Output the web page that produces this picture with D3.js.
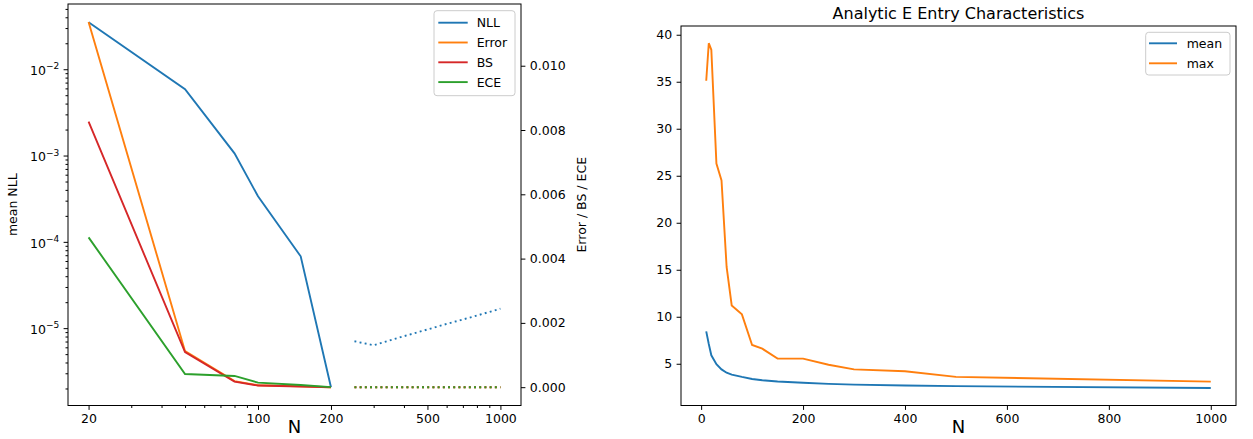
<!doctype html>
<html lang="en">
<head>
<meta charset="utf-8">
<title>Metrics vs N / Analytic E Entry Characteristics</title>
<script src="https://d3js.org/d3.v7.min.js"></script>
<style>
  body { margin: 0; background: #fff; }
  svg { display: block; font-family: "DejaVu Sans", sans-serif; }
  .axis path { display: none; }
  .axis line { stroke: #000; stroke-width: 1; }
  .axis text { fill: #000; font-size: 12.5px; font-family: "DejaVu Sans", sans-serif; }
  .spine { fill: none; stroke: #000; stroke-width: 1; }
  .legend-box { fill: #fff; fill-opacity: 0.8; stroke: #ccc; stroke-width: 1; }
  .legend text { font-size: 12.5px; fill: #000; }
</style>
</head>
<body>
<svg id="chart" width="1253" height="439"></svg>
<script>
// ---- left panel: NLL (log, left axis) + Error / BS / ECE (linear, right axis)
var nSolid = [20, 50, 80, 100, 150, 200];
var nllSolid = [0.035, 0.00586, 0.00106, 0.000337, 0.000068, 0.00000207];
var errSolid = [0.01136, 0.00112, 0.00019, 0.00006, 0.00003, 0];
var bsSolid  = [0.00826, 0.00109, 0.000174, 0.00005, 0.00002, 0];
var eceSolid = [0.00466, 0.00041, 0.00035, 0.00014, 0.00007, 0];

var nDotted = [250, 300, 400, 500, 600, 700, 800, 900, 1000];
var nllDotted = [7.05e-6, 6.34e-6, 8.07e-6, 9.65e-6, 1.12e-5, 1.26e-5, 1.40e-5, 1.54e-5, 1.68e-5];
var errDotted = [0, 0, 0, 0, 0, 0, 0, 0, 0];
var bsDotted  = [0, 0, 0, 0, 0, 0, 0, 0, 0];
var eceDotted = [0, 0, 0, 0, 0, 0, 0, 0, 0];

var xTicksLeft = [20, 100, 200, 500, 1000];
var xMinorLeft = [30, 40, 50, 60, 70, 80, 90, 300, 400, 600, 700, 800, 900];
var yTicksNll = [1e-5, 1e-4, 1e-3, 1e-2];
var yTicksRight = [0, 0.002, 0.004, 0.006, 0.008, 0.010];

// ---- right panel: analytic E entry characteristics
var nE = [10, 15, 20, 30, 40, 50, 60, 80, 100, 120, 150, 200, 250, 300, 400, 500, 1000];
var meanE = [8.45, 7.1, 5.9, 4.95, 4.4, 4.05, 3.85, 3.6, 3.38, 3.25, 3.12, 2.98, 2.86, 2.78, 2.68, 2.62, 2.42];
var maxE = [35.1, 39.1, 38.4, 26.3, 24.5, 15.3, 11.2, 10.25, 7.0, 6.6, 5.55, 5.55, 4.9, 4.4, 4.2, 3.6, 3.1];
var xTicksE = [0, 200, 400, 600, 800, 1000];
var yTicksE = [5, 10, 15, 20, 25, 30, 35, 40];

var C = { blue: "#1f77b4", orange: "#ff7f0e", green: "#2ca02c", red: "#d62728" };
var svg = d3.select("#chart");

// ================= left panel =================
var L = { left: 68, right: 521, top: 4, bottom: 405.5 };

var xL = d3.scaleLog().domain([16.45, 1216]).range([L.left, L.right]);
var yNll = d3.scaleLog().domain([1.27e-6, 0.057]).range([L.bottom, L.top]);
var yR = d3.scaleLinear().domain([-0.00057, 0.01192]).range([L.bottom, L.top]);

var gl = svg.append("g");

// x axis (major + minor)
gl.append("g").attr("class", "axis")
  .attr("transform", "translate(0," + L.bottom + ")")
  .call(d3.axisBottom(xL).tickValues(xTicksLeft).tickFormat(d3.format("d"))
    .tickSize(4.4).tickPadding(4.4).tickSizeOuter(0));
gl.append("g").attr("class", "axis")
  .attr("transform", "translate(0," + L.bottom + ")")
  .call(d3.axisBottom(xL).tickValues(xMinorLeft).tickFormat("").tickSize(2.5).tickSizeOuter(0));

// left log axis
var minorNll = [];
for (var k = -7; k <= -1; k++) {
  for (var m = 2; m <= 9; m++) {
    var v = m * Math.pow(10, k);
    if (v > yNll.domain()[0] && v < yNll.domain()[1]) minorNll.push(v);
  }
}
var yAxL = gl.append("g").attr("class", "axis")
  .attr("transform", "translate(" + L.left + ",0)")
  .call(d3.axisLeft(yNll).tickValues(yTicksNll).tickFormat(function(d) { return ""; })
    .tickSize(4.4).tickPadding(4.4).tickSizeOuter(0));
yAxL.selectAll(".tick text").each(function(d) {
  var t = d3.select(this).attr("dy", "0.42em");
  t.append("tspan").text("10");
  t.append("tspan").attr("dy", -5.5).style("font-size", "9px")
    .text("\u2212" + Math.round(-Math.log10(d)));
});
gl.append("g").attr("class", "axis")
  .attr("transform", "translate(" + L.left + ",0)")
  .call(d3.axisLeft(yNll).tickValues(minorNll).tickFormat("").tickSize(2.5).tickSizeOuter(0));

// right linear axis
gl.append("g").attr("class", "axis")
  .attr("transform", "translate(" + L.right + ",0)")
  .call(d3.axisRight(yR).tickValues(yTicksRight).tickFormat(d3.format(".3f"))
    .tickSize(4.4).tickPadding(4.4).tickSizeOuter(0));

// lines
function lineOn(x, y) {
  return d3.line().x(function(d) { return x(d[0]); }).y(function(d) { return y(d[1]); });
}
var nllLine = lineOn(xL, yNll);
var rLine = lineOn(xL, yR);

gl.append("path").attr("d", nllLine(d3.zip(nSolid, nllSolid)))
  .attr("fill", "none").attr("stroke", C.blue).attr("stroke-width", 1.9);
gl.append("path").attr("d", nllLine(d3.zip(nDotted, nllDotted)))
  .attr("fill", "none").attr("stroke", C.blue).attr("stroke-width", 1.9).attr("stroke-dasharray", "1.9,3.3");

var rightSeries = [
  { solid: errSolid, dotted: errDotted, color: C.orange },
  { solid: bsSolid, dotted: bsDotted, color: C.red },
  { solid: eceSolid, dotted: eceDotted, color: C.green }
];
rightSeries.forEach(function(s) {
  gl.append("path").attr("d", rLine(d3.zip(nSolid, s.solid)))
    .attr("fill", "none").attr("stroke", s.color).attr("stroke-width", 1.9);
  gl.append("path").attr("d", rLine(d3.zip(nDotted, s.dotted)))
    .attr("fill", "none").attr("stroke", s.color).attr("stroke-width", 1.9).attr("stroke-dasharray", "1.9,3.3");
});

gl.append("rect").attr("class", "spine")
  .attr("x", L.left).attr("y", L.top).attr("width", L.right - L.left).attr("height", L.bottom - L.top);

// labels
gl.append("text").attr("transform", "translate(16.5," + (L.top + L.bottom) / 2 + ") rotate(-90)")
  .attr("text-anchor", "middle").style("font-size", "12.5px").text("mean NLL");
gl.append("text").attr("transform", "translate(585.5," + (L.top + L.bottom) / 2 + ") rotate(-90)")
  .attr("text-anchor", "middle").style("font-size", "12.5px").text("Error / BS / ECE");
gl.append("text").attr("x", (L.left + L.right) / 2).attr("y", 433)
  .attr("text-anchor", "middle").style("font-size", "18px").text("N");

// legend
var legL = gl.append("g").attr("class", "legend");
legL.append("rect").attr("class", "legend-box")
  .attr("x", 434).attr("y", 10.7).attr("width", 81).attr("height", 85).attr("rx", 3);
[["NLL", C.blue], ["Error", C.orange], ["BS", C.red], ["ECE", C.green]].forEach(function(e, i) {
  var y = 22.7 + i * 19.8;
  legL.append("line").attr("x1", 438.3).attr("x2", 467.7).attr("y1", y).attr("y2", y)
    .attr("stroke", e[1]).attr("stroke-width", 1.9);
  legL.append("text").attr("x", 476.7).attr("y", y).attr("dy", "0.36em").text(e[0]);
});

// ================= right panel =================
var R = { left: 681, right: 1236, top: 26, bottom: 405.5 };

var xE = d3.scaleLinear().domain([-39.5, 1049.5]).range([R.left, R.right]);
var yE = d3.scaleLinear().domain([0.56, 40.93]).range([R.bottom, R.top]);

var gr = svg.append("g");

gr.append("g").attr("class", "axis")
  .attr("transform", "translate(0," + R.bottom + ")")
  .call(d3.axisBottom(xE).tickValues(xTicksE).tickFormat(d3.format("d"))
    .tickSize(4.4).tickPadding(4.4).tickSizeOuter(0));
gr.append("g").attr("class", "axis")
  .attr("transform", "translate(" + R.left + ",0)")
  .call(d3.axisLeft(yE).tickValues(yTicksE).tickFormat(d3.format("d"))
    .tickSize(4.4).tickPadding(4.4).tickSizeOuter(0));

var eLine = lineOn(xE, yE);
gr.append("path").attr("d", eLine(d3.zip(nE, meanE)))
  .attr("fill", "none").attr("stroke", C.blue).attr("stroke-width", 1.9);
gr.append("path").attr("d", eLine(d3.zip(nE, maxE)))
  .attr("fill", "none").attr("stroke", C.orange).attr("stroke-width", 1.9);

gr.append("rect").attr("class", "spine")
  .attr("x", R.left).attr("y", R.top).attr("width", R.right - R.left).attr("height", R.bottom - R.top);

gr.append("text").attr("x", (R.left + R.right) / 2).attr("y", 18.5)
  .attr("text-anchor", "middle").style("font-size", "16px").text("Analytic E Entry Characteristics");
gr.append("text").attr("x", (R.left + R.right) / 2).attr("y", 433)
  .attr("text-anchor", "middle").style("font-size", "18px").text("N");

var legR = gr.append("g").attr("class", "legend");
legR.append("rect").attr("class", "legend-box")
  .attr("x", 1145.7).attr("y", 32.3).attr("width", 84.3).attr("height", 42.7).attr("rx", 3);
[["mean", C.blue], ["max", C.orange]].forEach(function(e, i) {
  var y = 43.3 + i * 20;
  legR.append("line").attr("x1", 1149).attr("x2", 1177).attr("y1", y).attr("y2", y)
    .attr("stroke", e[1]).attr("stroke-width", 1.9);
  legR.append("text").attr("x", 1186.7).attr("y", y).attr("dy", "0.36em").text(e[0]);
});
</script>
</body>
</html>
